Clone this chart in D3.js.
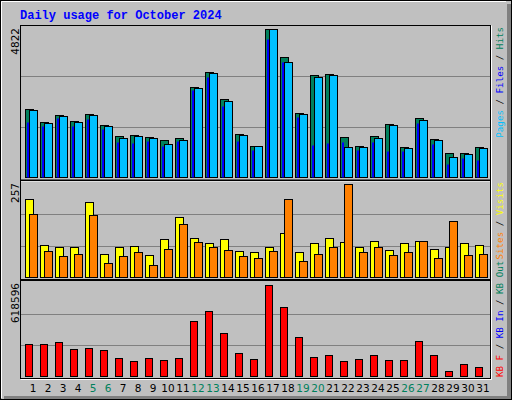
<!DOCTYPE html>
<html><head><meta charset="utf-8">
<script src="https://cdn.jsdelivr.net/npm/d3@7"></script>
<style>body{margin:0;background:#fff}</style>
</head><body>
<svg id="chart" width="512" height="400"></svg>
<script>
// daily values
var days = d3.range(1, 32);
var weekend = [5, 6, 12, 13, 19, 20, 26, 27];
var hits  = [2210,1786,2014,1819,2047,1688,1329,1362,1296,1198,1264,2929,3418,2537,1394,1002,4822,3908,2080,3320,3353,1296,1002,1329,1721,970,1917,1231,774,774,970];
var files = [2178,1753,1982,1786,2014,1655,1264,1329,1264,1068,1198,2896,3386,2472,1362,1002,4822,3745,2047,3255,3316,970,970,1264,1688,937,1851,1198,643,741,937];
var pages = [1786,1665,1926,1665,1894,1567,1133,1100,1166,1002,1166,2831,3255,2308,1166,872,4496,3745,1949,1035,1100,1133,872,1133,839,839,1753,1068,415,611,545];
var visits = [215,90,82,82,207,65,84,87,62,104,165,107,95,104,73,70,84,123,68,95,107,98,84,101,76,93,101,79,82,93,90];
var sites  = [176,73,59,65,171,40,57,70,34,79,146,98,82,76,57,54,73,215,45,65,82,257,70,82,62,68,101,54,154,62,65];
var kbytes = [218900,218900,232400,185000,191800,178200,124100,103800,124100,110500,124100,374500,442200,293300,158000,117300,618596,469300,266200,131000,144400,103800,117300,144400,110500,110500,239100,144400,36100,83500,63200];
var maxHits = 4822, maxVisits = 257, maxKB = 618596;

var svg = d3.select("#chart");
var mono = "'DejaVu Sans Mono', monospace";

// frame
svg.append("rect").attr("x",0.5).attr("y",0.5).attr("width",511).attr("height",399)
  .attr("fill","#c0c0c0").attr("stroke","#000");
svg.append("path").attr("d","M1.5,398V1.5H506").attr("stroke","#fff").attr("fill","none");
svg.append("rect").attr("x",507).attr("y",4).attr("width",4).attr("height",395).attr("fill","#808080");
svg.append("rect").attr("x",4).attr("y",396).attr("width",507).attr("height",3).attr("fill","#808080");

svg.append("text").attr("x",20).attr("y",19).attr("font-family","'Liberation Mono', monospace")
  .attr("font-weight","bold").attr("font-size",12).attr("fill","#0000ff")
  .text("Daily usage for October 2024");

var x = d3.scaleBand().domain(days).range([25, 25 + 31 * 15]);

var panels = [
  {top:25, bottom:179.5, y: d3.scaleLinear().domain([0, maxHits]).range([177, 29]), max:maxHits},
  {top:180, bottom:279, y: d3.scaleLinear().domain([0, maxVisits]).range([277, 184.3]), max:maxVisits},
  {top:280, bottom:378, y: d3.scaleLinear().domain([0, maxKB]).range([376, 284.5]), max:maxKB}
];

panels.forEach(function(p){
  svg.append("rect").attr("x",20.5).attr("y",p.top+0.5).attr("width",470).attr("height",p.bottom-p.top)
    .attr("fill","none").attr("stroke","#000");
  svg.append("path").attr("d","M20.5,"+(p.bottom+1.5)+"H491.5V"+(p.top+0.5))
    .attr("stroke","#fff").attr("fill","none");
  [0.335, 0.68].forEach(function(f){
    var gy = Math.round(p.y(p.max * f)) + 0.5;
    svg.append("line").attr("x1",21).attr("x2",490).attr("y1",gy).attr("y2",gy)
      .attr("stroke","#808080");
  });
  svg.append("text").attr("transform","translate(19,"+(p.top+3)+") rotate(-90)")
    .attr("text-anchor","end").attr("font-family","'DejaVu Sans', sans-serif")
    .attr("font-size",10.5).text(d3.max(p.y.domain()));
});

function bars(vals, scale, dx, w, color, stroke){
  svg.append("g").selectAll("rect").data(vals).enter().append("rect")
    .attr("x", (d,i) => x(days[i]) + dx + 0.5)
    .attr("y", d => Math.round(scale(d)) + 0.5)
    .attr("width", w)
    .attr("height", d => Math.round(scale(0)) - Math.round(scale(d)))
    .attr("fill", color)
    .attr("stroke", stroke ? "#000" : "none");
}
bars(hits, panels[0].y, 0, 8, "#00805c", true);
bars(pages, panels[0].y, 1.5, 2, "#0000ff", false);
bars(files, panels[0].y, 4, 8, "#00c0ff", true);
bars(visits, panels[1].y, 0, 8, "#ffff00", true);
bars(sites, panels[1].y, 4, 8, "#ff8000", true);
bars(kbytes, panels[2].y, 0, 7, "#ff0000", true);

// day labels
svg.append("g").selectAll("text").data(days).enter().append("text")
  .attr("x", d => x(d) + 8).attr("y", 392).attr("text-anchor","middle")
  .attr("font-family","'DejaVu Sans', sans-serif").attr("font-size",10.5)
  .attr("fill", d => weekend.indexOf(d) >= 0 ? "#00805c" : "#000")
  .text(d => d);

// right side legends
function legend(parts, tx, ty, anchor){
  var t = svg.append("text").attr("transform","translate("+tx+","+ty+") rotate(-90)")
    .attr("text-anchor",anchor).attr("font-family",mono).attr("font-size",9.2);
  parts.forEach(function(p){ t.append("tspan").attr("fill",p[1]).text(p[0]); });
}
legend([["Pages","#00c0ff"],[" / ","#000"],["Files","#0000ff"],[" / ","#000"],["Hits","#00805c"]], 503, 27, "end");
legend([["Sites","#ff8000"],[" / ","#000"],["Visits","#ffff00"]], 503, 182, "end");
legend([["KB F","#ff0000"],[" / ","#000"],["KB In","#0000ff"],[" / ","#000"],["KB Out","#00805c"]], 503, 377, "start");
</script>
</body></html>
